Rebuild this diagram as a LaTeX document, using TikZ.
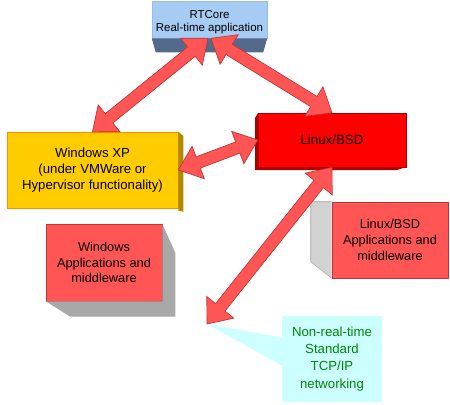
\documentclass[tikz,border=0pt]{standalone}
\usepackage{fontspec}
\setmainfont{Liberation Sans}
\usetikzlibrary{calc}

\definecolor{rtblue}{RGB}{166,204,244}
\definecolor{rtdark}{RGB}{84,106,138}
\definecolor{xpgold}{RGB}{255,204,0}
\definecolor{xpside}{RGB}{178,138,0}
\definecolor{linred}{RGB}{255,0,0}
\definecolor{lindark}{RGB}{172,0,0}
\definecolor{apppink}{RGB}{255,85,85}
\definecolor{appgray}{RGB}{168,168,168}
\definecolor{appltgray}{RGB}{210,210,210}
\definecolor{arrowfill}{RGB}{255,85,85}
\definecolor{arrowline}{RGB}{190,55,55}
\definecolor{tcpcyan}{RGB}{204,255,255}
\definecolor{tcpgreen}{RGB}{0,135,0}

\tikzset{every picture/.style={line width=0.75pt},
  face/.style={draw, line width=0.4pt, inner sep=0.75pt, align=center},
  bigarrow/.style={fill=arrowfill, draw=arrowline, line width=0.5pt, line join=miter}}

% double headed block arrow between two named points
\newcommand{\dblarrow}[2]{%
  \coordinate (qa) at ($(#1)!16pt!(#2)$);
  \coordinate (qb) at ($(#2)!16pt!(#1)$);
  \draw[bigarrow] (#1) -- ($(qa)!13pt!90:(#2)$) -- ($(qa)!4.5pt!90:(#2)$)
    -- ($(qb)!4.5pt!-90:(#1)$) -- ($(qb)!13pt!-90:(#1)$) -- (#2)
    -- ($(qb)!13pt!90:(#1)$) -- ($(qb)!4.5pt!90:(#1)$)
    -- ($(qa)!4.5pt!-90:(#2)$) -- ($(qa)!13pt!-90:(#2)$) -- cycle;}

\begin{document}
\begin{tikzpicture}[x=0.75pt,y=0.75pt,yscale=-1,xscale=1]
\useasboundingbox (0,0) rectangle (450,404);

% Text Node
\node[face, fill=rtblue, draw=rtblue!80!gray, minimum width=86.25pt, minimum height=27.75pt,
  font=\fontsize{8.6}{9.8}\selectfont] (rt) at (209.5,19.5) {\rule{0pt}{10.5pt}RTCore\\Real-time application};
%Shape: Polygon
\fill[rtdark] (rt.south west) -- (rt.south east) -- ++(-4,14) -- ($(rt.south west)+(4,14)$) -- cycle;

% Text Node
\node[face, fill=xpgold, draw=xpgold!70!red, minimum width=128.25pt, minimum height=57pt,
  font=\fontsize{9.9}{12}\selectfont] (winxp) at (92.5,170) {Windows XP\\(under VMWare or\\Hypervisor functionality)};
%Shape: Polygon
\fill[xpside] (winxp.north east) -- ++(5,4) -- ++(0,76) -- ++(-5,-1) -- cycle;

%Shape: Polygon
\fill[lindark] (258,113) -- ++(-3,5) -- ++(0,52) -- ++(142,0) -- (406,167) -- (258,167) -- cycle;
% Text Node
\node[face, fill=linred, draw=lindark, minimum width=111pt, minimum height=40.5pt,
  font=\fontsize{10}{12}\selectfont] (linux) at (332,140) {Linux/BSD};

% Text Node
\node[face, fill=apppink, draw=arrowline, minimum width=87pt, minimum height=57.75pt,
  font=\fontsize{9.6}{11.5}\selectfont] (winapp) at (104,262.5) {Windows\\Applications and\\middleware};
%Shape: Polygon
\fill[appgray] (winapp.north east) -- ++(13,29) -- ++(0,64) -- ++(-105,0) -- (winapp.south west) -- (winapp.south east) -- cycle;

% Text Node
\node[face, fill=apppink, draw=arrowline, minimum width=87pt, minimum height=57pt,
  font=\fontsize{9.6}{11.8}\selectfont] (linapp) at (390,240) {Linux/BSD\\Applications and\\middleware};
%Shape: Polygon
\fill[appltgray] (linapp.north west) -- ++(-21,0) -- ++(0,60) -- (linapp.south west) -- cycle;
\draw[appgray, line width=0.4pt] (linapp.north west) -- ++(-21,0) -- ++(0,60) -- (linapp.south west);

% Text Node
\node[face, fill=tcpcyan, draw=none, text=tcpgreen, minimum width=75pt, minimum height=64.5pt,
  font=\fontsize{9.9}{12.8}\selectfont] (tcp) at (332,359) {Non-real-time\\Standard\\TCP/IP\\networking};
\coordinate (net) at (207,324);
%Shape: Callout
\fill[tcpcyan] ($(tcp.north west)+(0.5,22)$) -- (net) -- ($(tcp.north west)+(0.5,50)$) -- cycle;

%Block Arrows
\coordinate (rtl) at ($(rt.south)+(-1.5,0)$);
\coordinate (rtr) at ($(rt.south)+(1.5,0)$);
\dblarrow{rtl}{winxp.north}
\dblarrow{rtr}{linux.north}
\dblarrow{winxp.east}{linux.west}
\dblarrow{linux.south}{net}

\end{tikzpicture}
\end{document}
